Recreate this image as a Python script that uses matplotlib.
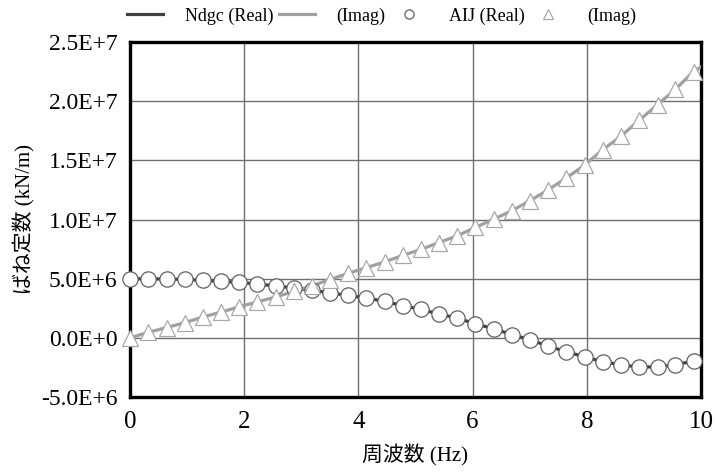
import matplotlib
matplotlib.use("Agg")
import matplotlib.pyplot as plt

plt.rcParams['font.family'] = ['Liberation Serif', 'Noto Sans CJK JP']

# AIJ points (Hz) and spring constants (kN/m)
aij_freq = [0.00, 0.32, 0.64, 0.96, 1.27, 1.59, 1.91, 2.23, 2.55, 2.87,
            3.18, 3.50, 3.82, 4.14, 4.46, 4.78, 5.10, 5.41, 5.73, 6.05,
            6.37, 6.69, 7.01, 7.32, 7.64, 7.96, 8.28, 8.60, 8.92, 9.24,
            9.55, 9.87]
aij_real = [5.00e6, 4.99e6, 4.97e6, 4.94e6, 4.86e6, 4.77e6, 4.69e6, 4.55e6,
            4.38e6, 4.21e6, 4.01e6, 3.81e6, 3.58e6, 3.36e6, 3.08e6, 2.72e6,
            2.40e6, 2.01e6, 1.67e6, 1.19e6, 0.76e6, 0.28e6, -0.17e6, -0.70e6,
            -1.16e6, -1.61e6, -2.01e6, -2.29e6, -2.46e6, -2.46e6, -2.29e6,
            -1.95e6]
aij_imag = [0.00e6, 0.46e6, 0.87e6, 1.28e6, 1.76e6, 2.16e6, 2.62e6, 3.04e6,
            3.45e6, 3.92e6, 4.38e6, 4.92e6, 5.45e6, 5.93e6, 6.42e6, 6.97e6,
            7.48e6, 8.05e6, 8.62e6, 9.33e6, 10.03e6, 10.75e6, 11.60e6, 12.50e6,
            13.50e6, 14.60e6, 15.90e6, 17.05e6, 18.40e6, 19.70e6, 21.00e6,
            22.50e6]

# Ndgc curves (same points, continued to 10 Hz)
ndgc_freq = aij_freq + [10.0]
ndgc_real = aij_real + [-1.80e6]
ndgc_imag = aij_imag + [22.90e6]

xticks = [0, 2, 4, 6, 8, 10]
yticks = [-5e6, 0, 5e6, 1e7, 1.5e7, 2e7, 2.5e7]
ytick_labels = ["-5.0E+6", "0.0E+0", "5.0E+6", "1.0E+7", "1.5E+7", "2.0E+7", "2.5E+7"]

fig = plt.figure(figsize=(7.15, 4.72), dpi=100)
ax = fig.add_axes([130 / 715, 75 / 472, 571 / 715, 355 / 472])

ax.plot(ndgc_freq, ndgc_real, color='#404040', lw=2.3, label='Ndgc (Real)', zorder=3)
ax.plot(ndgc_freq, ndgc_imag, color='#a0a0a0', lw=2.3, label='(Imag)', zorder=3)
ax.plot(aij_freq, aij_real, ls='none', marker='o', ms=11, mfc='white',
        mec='#606060', mew=0.9, label='AIJ (Real)', zorder=4, clip_on=False)
ax.plot(aij_freq, aij_imag, ls='none', marker='^', ms=11, mfc='white',
        mec='#a8a8a8', mew=0.9, label='(Imag)', zorder=4, clip_on=False)

ax.set_xlim(0, 10)
ax.set_ylim(-5e6, 2.5e7)
ax.set_xticks(xticks)
ax.set_yticks(yticks)
ax.set_yticklabels(ytick_labels)
ax.tick_params(length=0)
ax.tick_params(axis='y', pad=9, labelsize=17)
ax.tick_params(axis='x', pad=10, labelsize=18)

ax.grid(True, color='#707070', lw=1)
ax.set_axisbelow(True)
for sp in ax.spines.values():
    sp.set_linewidth(2.4)
    sp.set_color('black')

ax.set_xlabel('周波数 (Hz)', fontsize=15, labelpad=8)
ax.set_ylabel('ばね定数 (kN/m)', fontsize=15, labelpad=4)

fig.legend(loc='center left', bbox_to_anchor=(118 / 715, 1 - 16 / 472), ncol=4,
           frameon=False, fontsize=13, handlelength=2.0, handletextpad=1.2,
           columnspacing=0.3, borderpad=0, markerscale=0.6)

fig.savefig('out.png', dpi=100)
